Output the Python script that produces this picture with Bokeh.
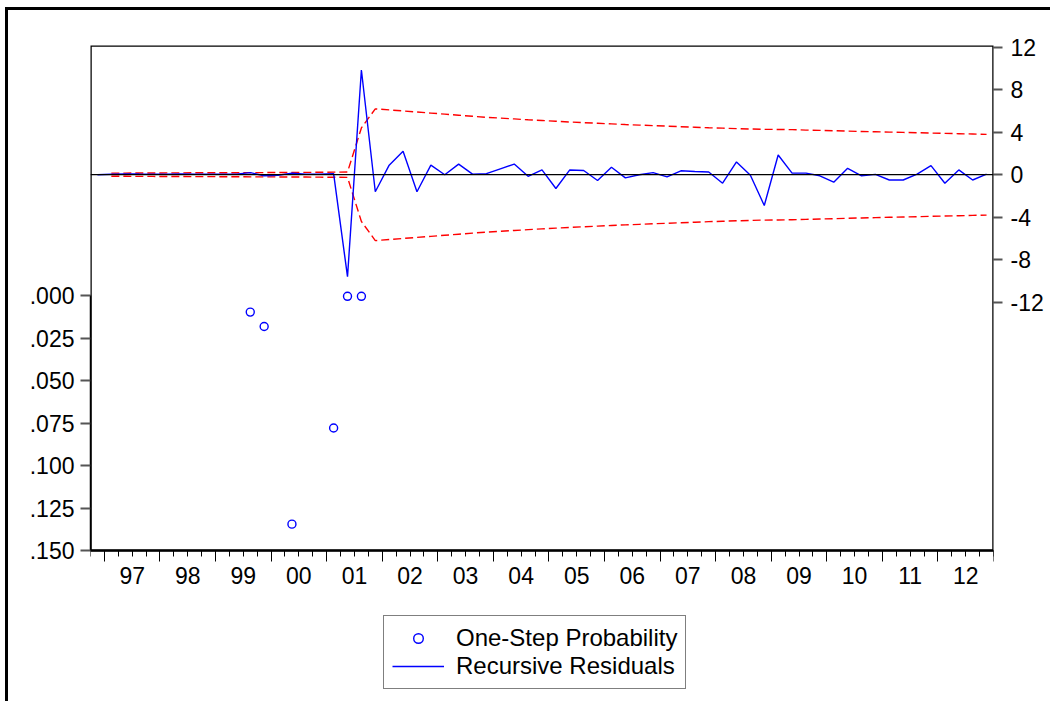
import numpy as np
from bokeh.plotting import figure
from bokeh.models import (Range1d, LinearAxis, FixedTicker, Span, Legend,
                          LegendItem, BoxAnnotation)
from bokeh.embed import file_html
from bokeh.resources import INLINE

# ---------------- data (quarterly, 1996Q4 .. 2012Q4) ----------------
quarters = [f"{1996 + (q + 3) // 4}Q{(q + 3) % 4 + 1}" for q in range(65)]

recursive_residuals = [
    0.00, 0.05, 0.08, 0.06, 0.05, 0.04, 0.06, 0.05, 0.04, 0.05,
    0.05, 0.20, -0.10, -0.05, 0.15, 0.05, 0.05, 0.10, -9.60, 9.85,
    -1.60, 0.90, 2.20, -1.60, 0.90, 0.00, 1.00, 0.05, 0.10, 0.55,
    1.00, -0.15, 0.45, -1.30, 0.45, 0.40, -0.55, 0.70, -0.30, 0.00,
    0.20, -0.20, 0.37, 0.30, 0.25, -0.80, 1.20, -0.05, -2.90, 1.85,
    0.15, 0.15, -0.10, -0.70, 0.60, -0.10, 0.03, -0.50, -0.50, 0.05,
    0.85, -0.80, 0.45, -0.50, 0.05,
]

upper_band = [
    np.nan, 0.15, 0.15, 0.16, 0.16, 0.17, 0.17, 0.18, 0.18, 0.19,
    0.19, 0.20, 0.20, 0.21, 0.21, 0.22, 0.23, 0.24, 0.25, 4.40,
    6.20, 6.10, 6.00, 5.90, 5.80, 5.70, 5.60, 5.50, 5.40, 5.33,
    5.25, 5.17, 5.10, 5.03, 4.96, 4.90, 4.84, 4.78, 4.72, 4.67,
    4.62, 4.57, 4.52, 4.47, 4.42, 4.38, 4.34, 4.30, 4.27, 4.26,
    4.24, 4.20, 4.17, 4.14, 4.10, 4.07, 4.04, 4.01, 3.98, 3.95,
    3.92, 3.89, 3.86, 3.83, 3.80,
]

lower_band = [
    np.nan, -0.15, -0.15, -0.16, -0.16, -0.17, -0.17, -0.18, -0.18, -0.19,
    -0.19, -0.20, -0.20, -0.21, -0.21, -0.22, -0.23, -0.24, -0.25, -4.40,
    -6.20, -6.10, -6.00, -5.90, -5.80, -5.70, -5.60, -5.50, -5.40, -5.33,
    -5.25, -5.17, -5.10, -5.03, -4.96, -4.90, -4.84, -4.78, -4.72, -4.67,
    -4.62, -4.57, -4.52, -4.47, -4.42, -4.38, -4.34, -4.30, -4.27, -4.26,
    -4.24, -4.20, -4.17, -4.14, -4.10, -4.07, -4.04, -4.01, -3.98, -3.95,
    -3.92, -3.89, -3.86, -3.83, -3.80,
]

# one-step probabilities (only those below .15 are shown)
prob_quarters = ["1999Q3", "1999Q4", "2000Q2", "2001Q1", "2001Q2", "2001Q3"]
prob_values = [0.0095, 0.018, 0.1345, 0.0778, 0.0002, 0.0002]

year_labels = ["97", "98", "99", "00", "01", "02", "03", "04",
               "05", "06", "07", "08", "09", "10", "11", "12"]
prob_ticks = [0.0, 0.025, 0.05, 0.075, 0.1, 0.125, 0.15]
prob_tick_labels = [".000", ".025", ".050", ".075", ".100", ".125", ".150"]
resid_ticks = [-12, -8, -4, 0, 4, 8, 12]
resid_tick_labels = ["-12", "-8", "-4", "0", "4", "8", "12"]


def qpos(label):
    y, q = int(label[:4]), int(label[5])
    return y + (q - 1) / 4 + 0.125


x = [qpos(q) for q in quarters]
px = [qpos(q) for q in prob_quarters]
years = [1997 + k for k in range(len(year_labels))]

FONT = "Liberation Sans"
FS = "23px"

X0, X1 = 1996.75, 2013.0
PROB_TOP, PROB_BOTTOM = -0.14764, 0.2408   # frame extends below the axis
AXIS_AT = 0.15                             # where the plotted box ends

p = figure(width=1045, height=694,
           x_range=Range1d(X0, X1),
           y_range=Range1d(PROB_BOTTOM, PROB_TOP),
           output_backend="svg", toolbar_location=None,
           min_border_left=82, min_border_right=60,
           min_border_top=35, min_border_bottom=0)
p.margin = (7, 0, 0, 5)
p.styles = {"border-left": "3px solid black", "border-top": "3px solid black"}
p.extra_y_ranges = {"resid": Range1d(-49.86, 12.16)}
p.xgrid.visible = False
p.ygrid.visible = False
p.outline_line_color = None
p.background_fill_color = "white"
p.border_fill_color = "white"

# plot box (frame of the drawing area, ending at the x axis)
p.add_layout(BoxAnnotation(left=X0, right=X1, top=PROB_TOP, bottom=AXIS_AT,
                           fill_color=None, fill_alpha=0,
                           line_color="black", line_alpha=1, line_width=2.5))

# left axis (probability, inverted)
la = p.yaxis[0]
la.ticker = FixedTicker(ticks=prob_ticks)
la.major_label_overrides = {t: l for t, l in zip(prob_ticks, prob_tick_labels)}
la.bounds = (0, 0.15)
la.minor_tick_out = 0
la.minor_tick_in = 0
la.major_tick_in = 0
la.major_tick_out = 10
la.major_tick_line_color = "#555555"
la.major_tick_line_width = 2
la.axis_line_color = "black"
la.axis_line_width = 1.5
la.major_label_standoff = 6
la.major_label_text_font = FONT
la.major_label_text_font_size = FS
la.major_label_text_color = "black"

# right axis (residuals)
ra = LinearAxis(y_range_name="resid", ticker=FixedTicker(ticks=resid_ticks),
                bounds=(-12, 12))
ra.major_label_overrides = {t: l for t, l in zip(resid_ticks, resid_tick_labels)}
ra.major_tick_in = 0
ra.major_tick_out = 9
ra.minor_tick_out = 0
ra.minor_tick_in = 0
ra.major_tick_line_color = "#555555"
ra.major_tick_line_width = 2
ra.axis_line_color = None
ra.major_label_standoff = 8
ra.major_label_text_font = FONT
ra.major_label_text_font_size = FS
ra.major_label_text_color = "black"
p.add_layout(ra, "right")

# bottom axis at the box bottom: year-boundary ticks + quarter minor ticks
xa = p.xaxis[0]
xa.fixed_location = AXIS_AT
xa.ticker = FixedTicker(ticks=years + [years[-1] + 1],
                        minor_ticks=[X0 + 0.25 * k for k in range(66)])
xa.major_label_overrides = {y: "" for y in years + [years[-1] + 1]}
xa.major_label_text_font_size = "0px"
xa.major_tick_in = 0
xa.major_tick_out = 11
xa.minor_tick_in = 0
xa.minor_tick_out = 6
xa.major_tick_line_color = "black"
xa.minor_tick_line_color = "black"
xa.axis_line_color = "black"
xa.axis_line_width = 1.5

# year labels centred in each year
centers = [y + 0.5 for y in years]
xl = LinearAxis(ticker=FixedTicker(ticks=centers, minor_ticks=[]),
                fixed_location=AXIS_AT)
xl.major_label_overrides = {c: l for c, l in zip(centers, year_labels)}
xl.major_tick_in = 0
xl.major_tick_out = 0
xl.minor_tick_in = 0
xl.minor_tick_out = 0
xl.axis_line_color = None
xl.major_label_standoff = 17
xl.major_label_text_font = FONT
xl.major_label_text_font_size = FS
xl.major_label_text_color = "black"
p.add_layout(xl, "below")

# glyphs
p.add_layout(Span(location=0, dimension="width", y_range_name="resid",
                  line_color="black", line_width=1.2))
p.line(x, upper_band, y_range_name="resid", line_color="#ff0000",
       line_width=1.4, line_dash="8 4")
p.line(x, lower_band, y_range_name="resid", line_color="#ff0000",
       line_width=1.4, line_dash="8 4")
res_r = p.line(x, recursive_residuals, y_range_name="resid",
               line_color="#0000ff", line_width=1.4)
prob_r = p.scatter(px, prob_values, marker="circle", size=8,
                   fill_color=None, line_color="#0000ff", line_width=1.4)

legend = Legend(items=[LegendItem(label="One-Step Probability", renderers=[prob_r]),
                       LegendItem(label="Recursive Residuals", renderers=[res_r])],
                location=(293, 15))
legend.border_line_color = "black"
legend.border_line_width = 1.2
legend.background_fill_color = "white"
legend.background_fill_alpha = 1
legend.padding = 8
legend.spacing = 0
legend.margin = 0
legend.glyph_width = 52
legend.glyph_height = 24
legend.label_standoff = 12
legend.label_text_font = FONT
legend.label_text_font_size = "24px"
legend.label_text_color = "black"
p.add_layout(legend, "center")

open("out.html", "w").write(file_html(p, INLINE))
